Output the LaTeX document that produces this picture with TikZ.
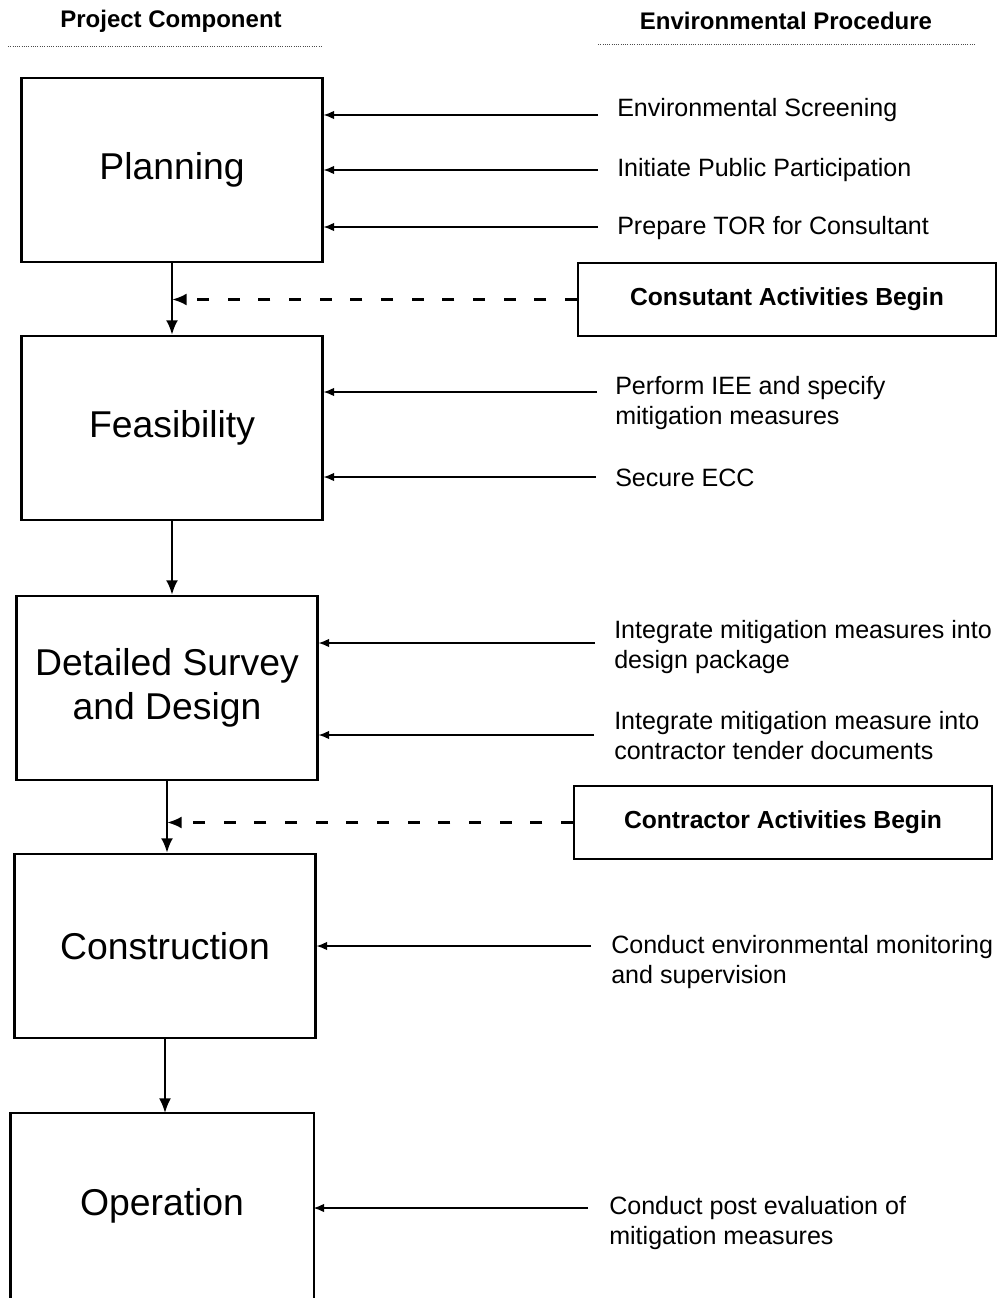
\documentclass[tikz,border=0pt]{standalone}
\usepackage{fontspec}
\setmainfont{Liberation Sans}
\usetikzlibrary{arrows.meta}
\tikzset{
  phase/.style={draw, line width=1.6pt, minimum width=225.75pt, minimum height=138pt, align=center, font=\fontsize{28}{33}\selectfont},
  begins/.style={draw, line width=1.4pt, minimum width=313.5pt, minimum height=55pt, font=\bfseries\fontsize{18.5}{22}\selectfont},
  proc/.style={anchor=west, align=left, inner sep=0pt, font=\fontsize{18.8}{22.5}\selectfont},
  head/.style={font=\bfseries\fontsize{18}{22}\selectfont},
  flow/.style={line width=2pt, -{Latex[length=11pt,width=9pt]}},
  feed/.style={line width=1pt, -{Latex[length=8pt,width=6.5pt]}},
  starts/.style={line width=2pt, dash pattern=on 9pt off 14pt, -{Latex[length=11pt,width=9pt]}},
  rule/.style={line width=0.7pt, densely dotted, black!70}
}
\begin{document}
\begin{tikzpicture}[x=0.75pt, y=-0.75pt]
\clip (0,0) rectangle (1002,1298);
\node[head] (hproj) at (171,21) {Project Component};
\node[head] (henv) at (786,21) {Environmental Procedure};
\draw[rule] (8,46) -- (322,46);
\draw[rule] (598,44) -- (975,44);

\node[phase] (plan) at (172,170) {Planning};
\node[phase] (feas) at (172,428) {Feasibility};
\node[phase] (design) at (167,688) {Detailed Survey\\and Design};
\node[phase] (constr) at (165,946) {Construction};
\node[phase, draw=none] (oper) at (162,1206) {Operation};
\draw[line width=1.6pt] ([yshift=-20pt]oper.south west) -- (oper.north west) -- (oper.north east) -- ([yshift=-20pt]oper.south east);

\node[begins] (cons) at (787,299.5) {Consutant Activities Begin};
\node[begins] (contr) at (783,822.5) {Contractor Activities Begin};

\draw[flow] (plan.south) -- (plan.south |- feas.north);
\draw[flow] (feas.south) -- (feas.south |- design.north);
\draw[flow] (design.south) -- (design.south |- constr.north);
\draw[flow, line width=1.4pt] (constr.south) -- (constr.south |- oper.north);

\coordinate (jc1) at (cons.west -| plan.south);
\coordinate (jc2) at (contr.west -| design.south);
\draw[starts] (cons.west) -- (jc1);
\draw[starts] (contr.west) -- (jc2);

\node[proc] (p1) at (617,110) {Environmental Screening};
\node[proc] (p2) at (617,170) {Initiate Public Participation};
\node[proc] (p3) at (617,228) {Prepare TOR for Consultant};
\node[proc] (p4) at (615,403) {Perform IEE and specify\\mitigation measures};
\node[proc] (p5) at (615,478) {Secure ECC};
\node[proc] (p6) at (614,647) {Integrate mitigation measures into\\design package};
\node[proc] (p7) at (614,736) {Integrate mitigation measure into\\contractor tender documents};
\node[proc] (p8) at (611,962) {Conduct environmental monitoring\\and supervision};
\node[proc] (p9) at (609,1223) {Conduct post evaluation of\\mitigation measures};

\coordinate (s1) at (598,115);
\coordinate (s2) at (598,170);
\coordinate (s3) at (598,227);
\coordinate (s4) at (597,392);
\coordinate (s5) at (596,477);
\coordinate (s6) at (595,643);
\coordinate (s7) at (594,735);
\coordinate (s8) at (591,946);
\coordinate (s9) at (588,1208);
\draw[feed] (s1) -- (s1 -| plan.east);
\draw[feed] (s2) -- (s2 -| plan.east);
\draw[feed] (s3) -- (s3 -| plan.east);
\draw[feed] (s4) -- (s4 -| feas.east);
\draw[feed] (s5) -- (s5 -| feas.east);
\draw[feed] (s6) -- (s6 -| design.east);
\draw[feed] (s7) -- (s7 -| design.east);
\draw[feed] (s8) -- (s8 -| constr.east);
\draw[feed] (s9) -- (s9 -| oper.east);
\end{tikzpicture}
\end{document}
